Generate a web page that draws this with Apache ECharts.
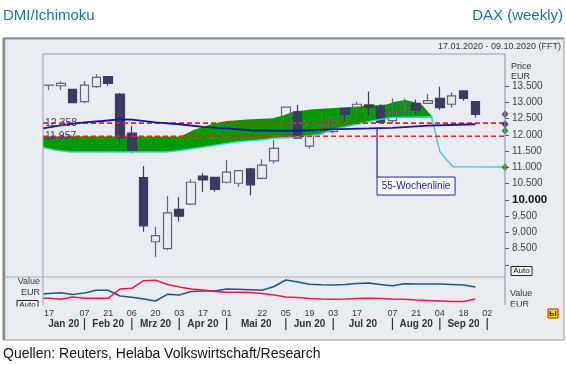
<!DOCTYPE html>
<html><head><meta charset="utf-8">
<script src="https://cdn.jsdelivr.net/npm/echarts@6/dist/echarts.min.js"></script>
<style>html,body{margin:0;padding:0;background:#fff}#c{width:566px;height:365px}</style>
</head><body><div id="c"></div>
<script>
// ---- categories (weekly) ----
const weeks = ['2020-01-17','2020-01-24','2020-01-31','2020-02-07','2020-02-14','2020-02-21','2020-02-28','2020-03-06','2020-03-13','2020-03-20','2020-03-27','2020-04-03','2020-04-10','2020-04-17','2020-04-24','2020-05-01','2020-05-08','2020-05-15','2020-05-22','2020-05-29','2020-06-05','2020-06-12','2020-06-19','2020-06-26','2020-07-03','2020-07-10','2020-07-17','2020-07-24','2020-07-31','2020-08-07','2020-08-14','2020-08-21','2020-08-28','2020-09-04','2020-09-11','2020-09-18','2020-09-25','2020-10-02','2020-10-09'];
const dayTickIdx = [0,3,5,7,9,11,13,15,18,20,22,24,26,29,31,33,35,37];
const monthNames = ['Jan 20','Feb 20','Mrz 20','Apr 20','Mai 20','Jun 20','Jul 20','Aug 20','Sep 20'];
const priceTicks = [8500,9000,9500,10000,10500,11000,11500,12000,12500,13000,13500];
const priceTickMarks = [8000,8500,9000,9500,10000,10500,11000,11500,12000,12500,13000,13500];

// ---- weekly candles ----
const open  = [13525,13510,13400,13020,13480,13790,13250,12050,10680,8710,8500,9710,9870,10730,10690,10540,10510,10950,10660,11195,11910,12710,11650,12250,12095,12815,12840,12920,12865,12435,12740,12970,12970,13120,12940,13350,13020];
const close = [13530,13580,12990,13530,13770,13580,11910,11530,9200,8900,9600,9500,10540,10610,10320,10850,10900,10460,11070,11585,12850,11900,12350,12290,12540,12630,12940,12850,12380,12680,12895,12760,13050,12835,13200,13120,12630];
const low   = [13380,13380,12980,12970,13450,13510,11700,11430,9020,8230,8450,9330,9840,10250,10250,10500,10400,10140,10630,11120,11900,11880,11580,12000,12040,12400,12510,12610,12360,12350,12560,12640,12960,12760,12830,13050,12530];
const high  = [13540,13650,13410,13655,13860,13795,13290,12270,11040,9170,10120,10080,10630,10815,10700,11225,10920,10990,11250,11840,12870,12920,12510,12700,12560,12830,13020,13330,12940,13120,13120,13090,13255,13480,13310,13355,13030];

// ---- Ichimoku cloud (week position, value) ----
const cloudTopPos = [-0.5,11.1,12.2,13.9,15.0,16.7,18.9,19.9,20.6,22.3,25.2,26.9,28.5,29.2,30.1,30.9,31.5,32.0,32.4];
const cloudTopVal = [11955,11950,12148,12348,12425,12471,12508,12609,12711,12785,12846,12895,12932,13018,13071,13000,12917,12711,12550];
const cloudBotPos = [-0.5,0.5,1.8,9.8,11.1,12.8,13.9,15.9,17.8,19.1,21.2,22.9,24.0,25.7,27.7,29.0,32.4];
const cloudBotVal = [11609,11532,11471,11471,11517,11609,11671,11788,11840,11892,11942,12015,12163,12302,12455,12532,12550];
const cyanPos = [-0.5,0.5,1.8,9.8,11.1,12.8,13.9,15.9,17.8,19.1,21.2,22.9,24.0,25.7,27.7,29.0,32.3,32.6,33.0,33.6,34.1,38.5];
const cyanVal = [11609,11532,11471,11471,11517,11609,11671,11788,11840,11892,11942,12015,12163,12302,12455,12532,12548,12095,11480,11225,11018,11010];

// ---- 55-week line ----
const ma55Pos = [-0.5,1,3,4.5,6,7,9,11,13,15,17,19,21,23,27,29,32,36];
const ma55Val = [12200,12290,12380,12425,12475,12470,12380,12325,12245,12195,12140,12125,12125,12160,12195,12215,12280,12325];

// ---- horizontal levels ----
const levels = [12358, 11957];
const levelLabels = ['12.358', '11.957'];

// ---- right axis markers ----
const markerVal = [12630, 12323, 12126, 11000];
const markerCol = ['#3a3a5e', '#1010c8', '#0a8a0a', '#0a8a0a'];

// ---- DMI panel (positions -0.5, 0..36) ----
const dmiBlue = [22,23,24.4,21,24,29.6,29.4,18,15.6,12,8,21.4,20,27,28,28,32,31.4,30.4,29.4,37,50,46,41.6,40.4,40,41,43,44,41,38.6,42.4,42,42,42,41,40,36];
const dmiRed  = [13.4,13.4,11.4,16,13.4,13.4,13.4,32,33.4,48.6,49.4,41,36,32,30,27,25.4,25.4,25,23,20,16,15,13,12,11.4,12,13,13.4,13,12,11.4,10,9,8,7,7,12];

const FONT = "'Liberation Sans', Arial, sans-serif";
const BG = '#e9ecf0';

const pairs = (p, v) => p.map((x, i) => [x, v[i]]);
const dmiPos = [-0.5].concat(open.map((_, i) => i));
const candleData = open.map((o, i) => [o, close[i], low[i], high[i]]);
const fmt = v => Math.floor(v / 1000) + '.' + String(v % 1000).padStart(3, '0');

const chart = echarts.init(document.getElementById('c'), null, {renderer: 'canvas'});

const GL = 43, GW = 462;
const option = {
  animation: false,
  backgroundColor: '#ffffff',
  textStyle: {fontFamily: FONT},
  grid: [
    {left: GL, top: 53.55, width: GW, height: 211.25},
    {left: GL, top: 277, width: GW, height: 28}
  ],
  xAxis: [
    {type: 'category', gridIndex: 0, data: weeks, boundaryGap: true, show: false},
    {type: 'value', gridIndex: 0, min: -0.5, max: 38.5, show: false},
    {type: 'value', gridIndex: 1, min: -0.5, max: 38.5, show: false},
    {type: 'category', gridIndex: 1, data: weeks, boundaryGap: true, position: 'bottom',
     axisLine: {show: false, onZero: false}, axisTick: {show: false}, splitLine: {show: false},
     axisLabel: {interval: 0, margin: 4, fontSize: 9, color: '#333', fontFamily: FONT,
       formatter: (v, i) => dayTickIdx.indexOf(i) >= 0 ? v.slice(8, 10) : ''}}
  ],
  yAxis: [
    {type: 'value', gridIndex: 0, min: 8000, max: 14500, interval: 500, position: 'right',
     axisLine: {show: false, onZero: false}, splitLine: {show: false},
     axisTick: {show: true, length: 4, lineStyle: {color: '#555'}, customValues: priceTickMarks},
     axisLabel: {margin: 7, fontSize: 10, color: '#444', fontFamily: FONT, customValues: priceTicks,
       formatter: v => priceTicks.indexOf(v) < 0 ? '' : (v === 10000 ? '{b|' + fmt(v) + '}' : fmt(v)),
       rich: {b: {fontSize: 11.5, fontWeight: 'bold', color: '#111', fontFamily: FONT}}}},
    {type: 'value', gridIndex: 1, min: 0, max: 56, show: false}
  ],
  series: [
    {type: 'custom', xAxisIndex: 1, yAxisIndex: 0, z: 1, silent: true,
     data: [[0, cloudTopVal[0]]],
     renderItem: (params, api) => {
       const pts = [];
       for (let i = 0; i < cloudTopPos.length; i++) pts.push(api.coord([cloudTopPos[i], cloudTopVal[i]]));
       for (let i = cloudBotPos.length - 1; i >= 0; i--) pts.push(api.coord([cloudBotPos[i], cloudBotVal[i]]));
       return {type: 'polygon', shape: {points: pts}, style: {fill: '#009a00'}};
     }},
    {type: 'candlestick', xAxisIndex: 0, yAxisIndex: 0, z: 3, barWidth: 9, data: candleData,
     itemStyle: {color: 'rgba(0,0,0,0)', color0: '#3b3b63', borderColor: '#62627c', borderColor0: '#3b3b63', borderWidth: 1.2}},
    {type: 'line', xAxisIndex: 1, yAxisIndex: 0, z: 4, data: pairs(cyanPos, cyanVal), symbol: 'none',
     lineStyle: {color: '#3fcfcf', width: 1.5}},
    {type: 'line', xAxisIndex: 1, yAxisIndex: 0, z: 5, data: [[-0.5, levels[0]], [38.5, levels[0]]], symbol: 'none',
     lineStyle: {color: '#ff1a1a', width: 1.6, type: [5, 3]}},
    {type: 'line', xAxisIndex: 1, yAxisIndex: 0, z: 5, data: [[-0.5, levels[1]], [38.5, levels[1]]], symbol: 'none',
     lineStyle: {color: '#ff1a1a', width: 1.6, type: [5, 3]}},
    {type: 'line', xAxisIndex: 1, yAxisIndex: 0, z: 6, data: pairs(ma55Pos, ma55Val), symbol: 'none',
     lineStyle: {color: '#1414a0', width: 1.8}},
    {type: 'scatter', xAxisIndex: 1, yAxisIndex: 0, z: 7, clip: false, symbol: 'diamond', symbolSize: [7, 8],
     data: markerVal.map((v, i) => ({value: [38.5, v], itemStyle: {color: markerCol[i]}}))},
    {type: 'line', xAxisIndex: 2, yAxisIndex: 1, data: pairs(dmiPos, dmiBlue), symbol: 'none',
     lineStyle: {color: '#1d5a82', width: 1.5}},
    {type: 'line', xAxisIndex: 2, yAxisIndex: 1, data: pairs(dmiPos, dmiRed), symbol: 'none',
     lineStyle: {color: '#ea1846', width: 1.5}}
  ]
};
chart.setOption(option);

// ---- decorations / text ----
const G = [];
const line = (x1, y1, x2, y2, c, w, z) => G.push({type: 'line', z: z || 50, silent: true, shape: {x1, y1, x2, y2}, style: {stroke: c, lineWidth: w || 1}});
const text = (x, y, t, o) => G.push(Object.assign({type: 'text', z: 60, silent: true, x, y,
  style: Object.assign({text: t, fontFamily: FONT, fontSize: 9, fill: '#333', textVerticalAlign: 'middle'}, o || {})}));

G.push({type: 'rect', z: -100, silent: true, shape: {x: 3, y: 38, width: 561, height: 302}, style: {fill: BG, stroke: '#9a9a9a', lineWidth: 1}});
line(3, 38.5, 564, 38.5, '#8c8c8c', 2);
line(4, 38, 4, 340, '#8c8c8c', 2.5);
// plot frame
line(GL, 54, 505, 54, '#9aa0a8', 1);
line(GL, 54, GL, 305, '#9aa0a8', 1);
line(505, 54, 505, 305, '#8a8f96', 1);
line(4, 277, 505, 277, '#a6abb2', 1.2);

// titles
text(3, 16, 'DMI/Ichimoku', {fontSize: 15, fill: '#1d6fae'});
text(563, 16, 'DAX (weekly)', {fontSize: 15, fill: '#1d6fae', textAlign: 'right'});
text(561, 47, '17.01.2020 - 09.10.2020 (FFT)', {fontSize: 9, fill: '#333', textAlign: 'right'});
text(3, 354, 'Quellen: Reuters, Helaba Volkswirtschaft/Research', {fontSize: 14, fill: '#111'});

// right axis captions
text(511, 67, 'Price', {fontSize: 9});
text(511, 77, 'EUR', {fontSize: 9});
G.push({type: 'rect', z: 60, silent: true, shape: {x: 511, y: 266.5, width: 21, height: 9}, style: {fill: '#f4f4f4', stroke: '#222', lineWidth: 1}});
text(521.5, 271, 'Auto', {fontSize: 8, textAlign: 'center', fill: '#111'});

// lower panel captions
text(40, 282, 'Value', {fontSize: 9, textAlign: 'right'});
text(40, 293, 'EUR', {fontSize: 9, textAlign: 'right'});
G.push({type: 'rect', z: 60, silent: true, shape: {x: 17, y: 300.5, width: 21, height: 8}, style: {fill: '#f4f4f4', stroke: '#222', lineWidth: 1}});
text(27.5, 305, 'Auto', {fontSize: 8, textAlign: 'center', fill: '#111'});
text(510, 294, 'Value', {fontSize: 9});
text(510, 305, 'EUR', {fontSize: 9});
G.push({type: 'rect', z: 61, silent: true, shape: {x: 8, y: 306.5, width: 34, height: 5}, style: {fill: BG}});
G.push({type: 'rect', z: 61, silent: true, shape: {x: 507, y: 306.5, width: 30, height: 5}, style: {fill: BG}});

// little icon
G.push({type: 'rect', z: 60, silent: true, shape: {x: 548, y: 309, width: 10, height: 9}, style: {fill: '#f2e600', stroke: '#d01010', lineWidth: 1}});
text(553, 313.5, 'Ы', {fontSize: 8, fill: '#222', textAlign: 'center', fontWeight: 'bold'});

// level labels
levels.forEach((lv, i) => {
  const p = chart.convertToPixel({seriesIndex: 3}, [-0.5, lv]);
  text(45, p[1], levelLabels[i], {fontSize: 10.5, fill: '#3a3a8c'});
});

// 55-Wochenlinie annotation
const aTop = chart.convertToPixel({seriesIndex: 5}, [27.7, 12200]);
const aBot = chart.convertToPixel({seriesIndex: 5}, [27.7, 10700]);
line(aTop[0], aTop[1], aTop[0], aBot[1], '#2020a8', 1.2, 55);
G.push({type: 'rect', z: 56, silent: true, shape: {x: aTop[0], y: aBot[1], width: 78, height: 18}, style: {fill: '#ffffff', stroke: '#2020a8', lineWidth: 1}});
text(aTop[0] + 39, aBot[1] + 9, '55-Wochenlinie', {fontSize: 10, fill: '#2020a8', textAlign: 'center'});

// month labels with separators
const seps = [];
for (let i = 1; i < weeks.length; i++) if (weeks[i].slice(5, 7) !== weeks[i - 1].slice(5, 7)) seps.push(i);
const sx = seps.map(i => chart.convertToPixel({xAxisIndex: 3}, i));
sx.forEach(x => line(x, 318, x, 330, '#333', 1.2));
monthNames.forEach((m, k) => {
  const left = k === 0 ? GL : sx[k - 1];
  const right = sx[k];
  text((left + right) / 2, 324, m, {fontSize: 10, fontWeight: 'bold', fill: '#333', textAlign: 'center'});
});

chart.setOption({graphic: {elements: G}});
</script></body></html>
